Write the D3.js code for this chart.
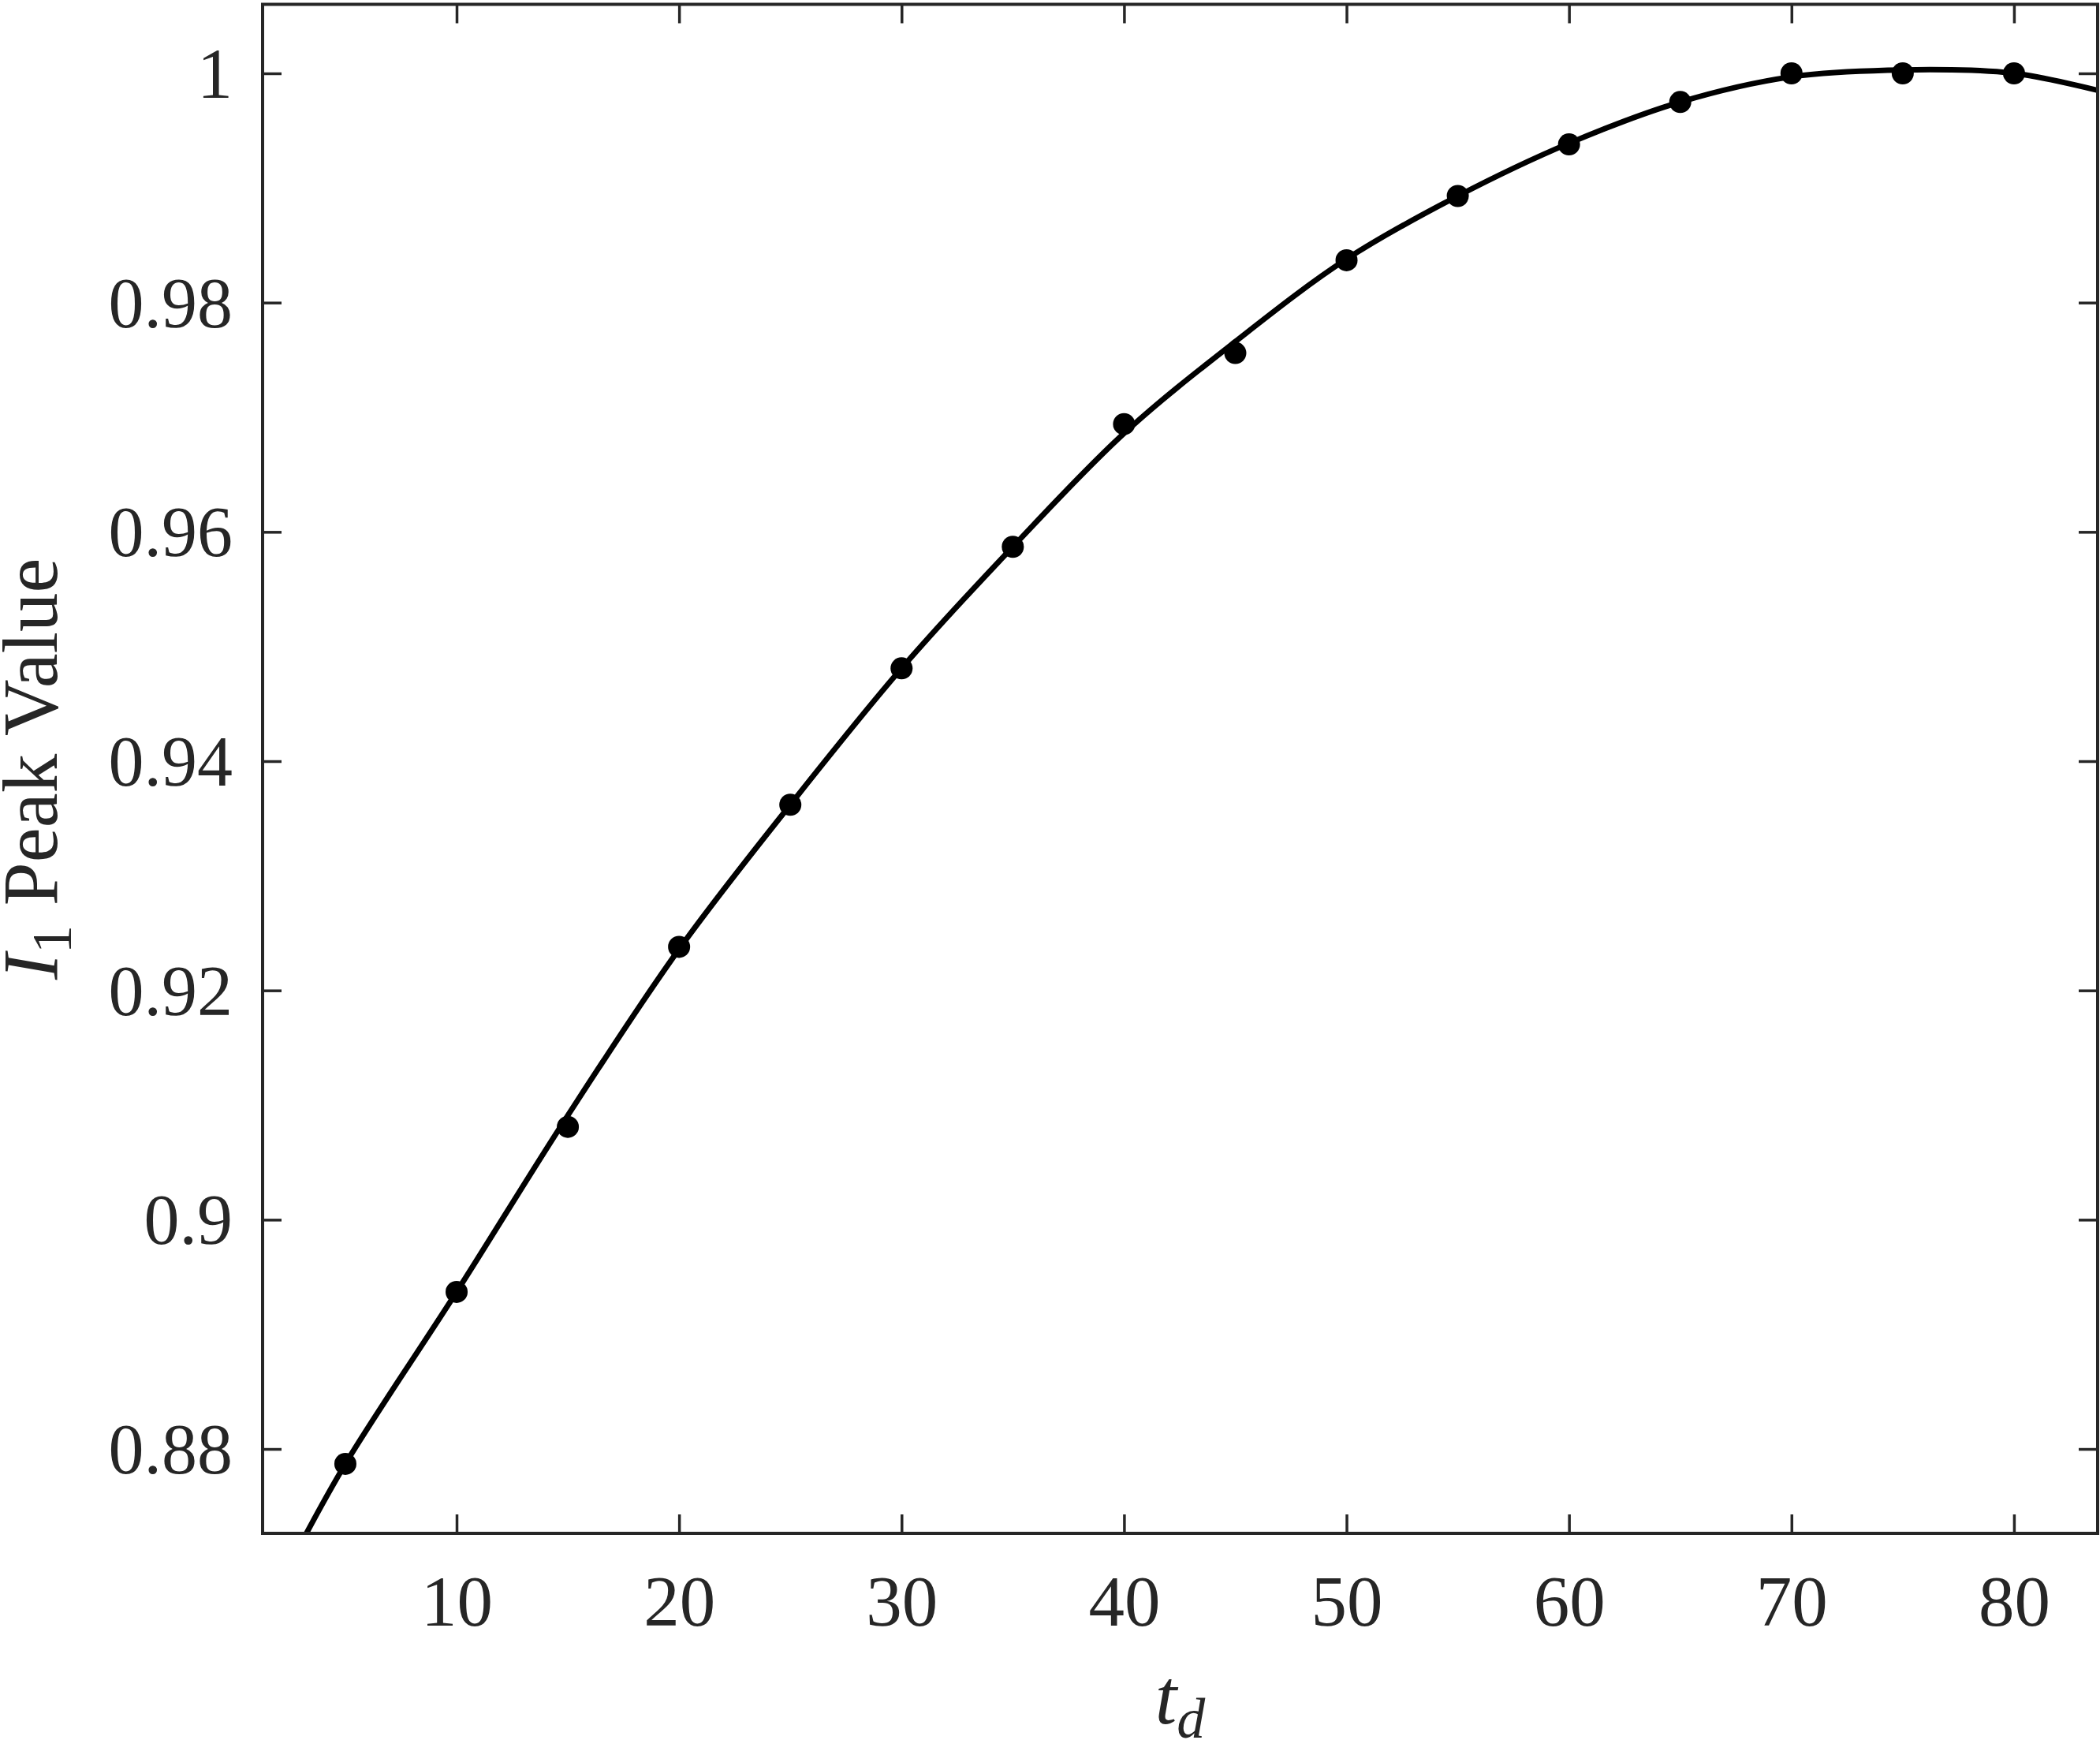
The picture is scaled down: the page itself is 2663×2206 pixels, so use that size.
<!DOCTYPE html>
<html>
<head>
<meta charset="utf-8">
<script src="https://cdn.jsdelivr.net/npm/d3@7"></script>
<style>
  html, body { margin: 0; padding: 0; background: #ffffff; }
  svg { display: block; }
</style>
</head>
<body>
<script>
// ---- data ----
const tdValues   = [5, 10, 15, 20, 25, 30, 35, 40, 45, 50, 55, 60, 65, 70, 75, 80];
const peakValues = [0.8787, 0.8937, 0.9081, 0.9238, 0.9362, 0.9481, 0.9587, 0.9694, 0.9756, 0.9837, 0.9893, 0.9938, 0.9975, 1.0000, 1.0000, 1.0000];

const fitT      = [2.8, 5, 10, 15, 20, 25, 30, 35, 40, 45, 50, 55, 60, 65, 70, 75, 80, 83.8];
const fitValues = [0.8710, 0.8787, 0.8937, 0.9091, 0.9236, 0.9362, 0.9481, 0.9587, 0.9686, 0.9766, 0.9838, 0.9893, 0.9939, 0.9975, 0.9997, 1.0003, 1.0000, 0.9985];

const xTicks = [10, 20, 30, 40, 50, 60, 70, 80];
const xTickLabels = ["10", "20", "30", "40", "50", "60", "70", "80"];
const yTicks = [0.88, 0.90, 0.92, 0.94, 0.96, 0.98, 1.00];
const yTickLabels = ["0.88", "0.9", "0.92", "0.94", "0.96", "0.98", "1"];

const xDomain = [1.28, 83.76];
const yDomain = [0.87264, 1.00602];

// ---- layout ----
const W = 2663, H = 2206;
const pLeft = 333, pRight = 2660, pTop = 5.5, pBottom = 1944;
const axisColor = "#262626";
const font = "'Liberation Serif', 'Times New Roman', serif";

const svg = d3.select("body").append("svg")
  .attr("width", W).attr("height", H)
  .attr("viewBox", `0 0 ${W} ${H}`);

svg.append("rect").attr("width", W).attr("height", H).attr("fill", "#fff");

const x = d3.scaleLinear().domain(xDomain).range([pLeft, pRight]);
const y = d3.scaleLinear().domain(yDomain).range([pBottom, pTop]);

svg.append("defs").append("clipPath").attr("id", "plotclip")
  .append("rect").attr("x", pLeft).attr("y", pTop)
  .attr("width", pRight - pLeft).attr("height", pBottom - pTop);

// fitted curve
const line = d3.line()
  .x((d, i) => x(fitT[i]))
  .y(d => y(d))
  .curve(d3.curveCatmullRom.alpha(0.5));

svg.append("path")
  .attr("clip-path", "url(#plotclip)")
  .attr("d", line(fitValues))
  .attr("fill", "none")
  .attr("stroke", "#000")
  .attr("stroke-width", 7)
  .attr("stroke-linejoin", "round");

// data points
svg.append("g").selectAll("circle")
  .data(peakValues)
  .join("circle")
  .attr("cx", (d, i) => x(tdValues[i]))
  .attr("cy", d => y(d))
  .attr("r", 14)
  .attr("fill", "#000");

// axes (box with inward ticks on all four sides)
const tickLen = 24;
const fmtX = (d, i) => xTickLabels[i];
const fmtY = (d, i) => yTickLabels[i];

function styleAxis(g) {
  g.select(".domain").remove();
  g.selectAll(".tick line").attr("stroke", axisColor).attr("stroke-width", 3.5);
  g.selectAll(".tick text")
    .attr("fill", axisColor)
    .style("font-family", font);
}

const gxB = svg.append("g").attr("transform", `translate(0,${pBottom})`)
  .call(d3.axisBottom(x).tickValues(xTicks).tickFormat(fmtX).tickSizeInner(-tickLen).tickSizeOuter(0).tickPadding(0));
styleAxis(gxB);
gxB.selectAll(".tick text")
  .attr("y", 117).attr("dy", null)
  .style("font-size", "91px");

const gxT = svg.append("g").attr("transform", `translate(0,${pTop})`)
  .call(d3.axisTop(x).tickValues(xTicks).tickFormat("").tickSizeInner(-tickLen).tickSizeOuter(0));
styleAxis(gxT);

const gyL = svg.append("g").attr("transform", `translate(${pLeft},0)`)
  .call(d3.axisLeft(y).tickValues(yTicks).tickFormat(fmtY).tickSizeInner(-tickLen).tickSizeOuter(0).tickPadding(0));
styleAxis(gyL);
gyL.selectAll(".tick text")
  .attr("x", -38).attr("dy", "0.34em")
  .style("font-size", "90px");

const gyR = svg.append("g").attr("transform", `translate(${pRight},0)`)
  .call(d3.axisRight(y).tickValues(yTicks).tickFormat("").tickSizeInner(-tickLen).tickSizeOuter(0));
styleAxis(gyR);

// box
svg.append("rect")
  .attr("x", pLeft).attr("y", pTop)
  .attr("width", pRight - pLeft).attr("height", pBottom - pTop)
  .attr("fill", "none")
  .attr("stroke", axisColor)
  .attr("stroke-width", 4);

// x label: t_d
const xl = svg.append("text")
  .attr("x", (pLeft + pRight) / 2).attr("y", 2185)
  .attr("text-anchor", "middle")
  .attr("fill", axisColor)
  .style("font-family", font)
  .style("font-size", "99px");
xl.append("tspan").style("font-style", "italic").text("t");
xl.append("tspan").style("font-style", "italic").style("font-size", "72px").attr("dy", 18).text("d");

// y label: I_1 Peak Value
const yl = svg.append("text")
  .attr("transform", `translate(72,${(pTop + pBottom) / 2}) rotate(-90)`)
  .attr("text-anchor", "middle")
  .attr("fill", axisColor)
  .style("font-family", font)
  .style("font-size", "99px");
yl.append("tspan").style("font-style", "italic").text("I");
yl.append("tspan").style("font-size", "72px").attr("dy", 18).text("1");
yl.append("tspan").attr("dy", -18).text(" Peak Value");
</script>
</body>
</html>
